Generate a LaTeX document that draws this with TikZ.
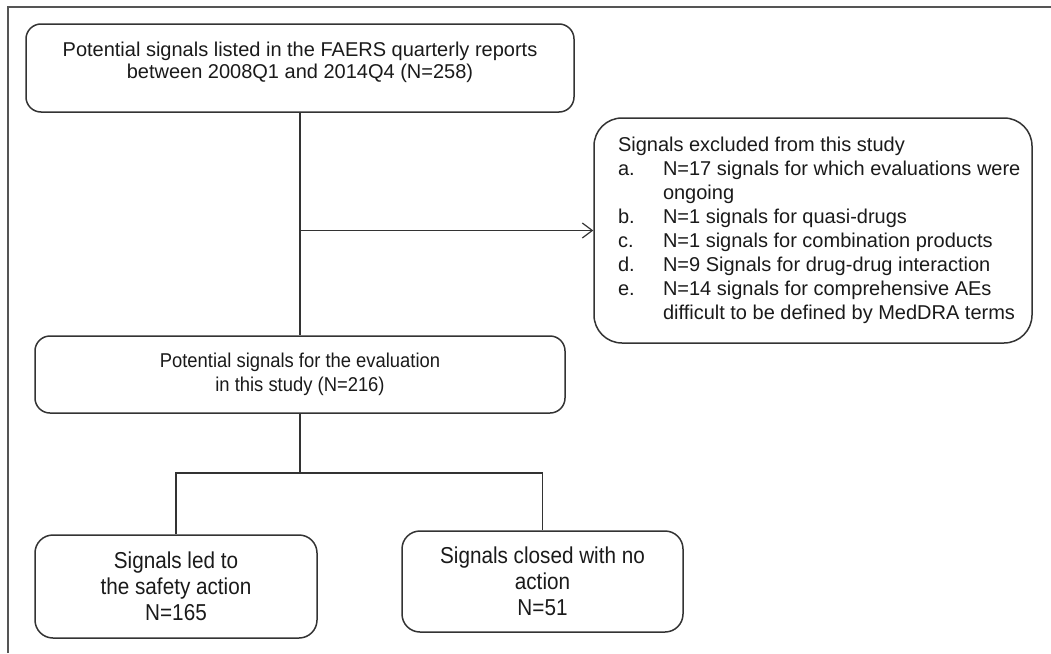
\documentclass[tikz,border=0pt]{standalone}
\usepackage{fontspec}
\usepackage{array}
\setmainfont{Liberation Sans}
\newfontfamily\condfont[FakeStretch=0.9]{Liberation Sans}
\newfontfamily\midfont[FakeStretch=0.92]{Liberation Sans}
\usetikzlibrary{arrows.meta}
\definecolor{linegray}{HTML}{333333}
\definecolor{framegray}{HTML}{555555}
\definecolor{textgray}{HTML}{1A1A1A}
\begin{document}
\begin{tikzpicture}[x=1pt,y=-1pt,
  box/.style={draw=linegray, line width=1.5pt, rounded corners=15pt, align=center,
    text=textgray, font=\fontsize{20}{22}\selectfont, inner sep=0pt},
  conn/.style={draw=linegray, line width=1.5pt},
  tip/.style={-{Straight Barb[length=10pt,width=15pt,line width=1.2pt]}}
]
\useasboundingbox (0,0) rectangle (1051,653);
\coordinate (fbl) at (8,653);
\coordinate (ftl) at (8,7);
\coordinate (ftr) at (1051,7);
\draw[framegray, line width=2pt] (fbl) -- (ftl) -- (ftr);

\node[box, minimum width=548pt, minimum height=88pt] (top) at (300,68)
  {Potential signals listed in the FAERS quarterly reports\\between 2008Q1 and 2014Q4 (N=258)\\[-6pt]\mbox{}};

\node[box, minimum width=530pt, minimum height=77pt, font=\midfont\fontsize{20}{24}\selectfont] (mid) at (300,374.5)
  {Potential signals for the evaluation\\in this study (N=216)};

\node[box, rounded corners=28pt, minimum width=438pt, minimum height=225pt, align=left,
  font=\fontsize{20}{24}\selectfont] (excl) at (813,230.5)
  {\hspace*{24pt}\begin{tabular}{@{}l@{}>{\raggedright\arraybackslash}p{362pt}@{}}
   \multicolumn{2}{@{}l@{}}{Signals excluded from this study}\\
   \makebox[45pt][l]{a.} & N=17 signals for which evaluations were ongoing\\
   \makebox[45pt][l]{b.} & N=1 signals for quasi-drugs\\
   \makebox[45pt][l]{c.} & N=1 signals for combination products\\
   \makebox[45pt][l]{d.} & N=9 Signals for drug-drug interaction\\
   \makebox[45pt][l]{e.} & N=14 signals for comprehensive AEs difficult to be defined by MedDRA terms\\[8pt]
   \end{tabular}\hspace*{7pt}};

\node[box, rounded corners=18pt, minimum width=282pt, minimum height=103pt,
  font=\condfont\fontsize{23}{26}\selectfont] (led) at (176,586.5)
  {Signals led to\\the safety action\\N=165};

\node[box, rounded corners=18pt, minimum width=281pt, minimum height=101pt,
  font=\condfont\fontsize{23}{26}\selectfont] (closed) at (542.5,581.5)
  {Signals closed with no\\action\\N=51};

\coordinate (j1) at (300,230.5);
\coordinate (br) at (300,473);

\draw[conn] (top.south) -- (mid.north);
\draw[conn, tip] (j1) -- (excl.west);
\draw[conn] (mid.south) -- (br);
\draw[conn] (led.north) |- (br) -| (closed.north);
\end{tikzpicture}
\end{document}
